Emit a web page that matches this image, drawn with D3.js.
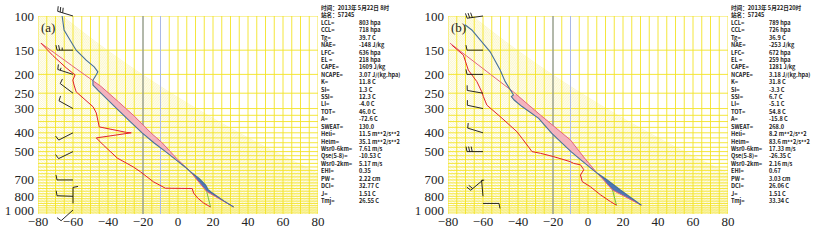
<!DOCTYPE html>
<html>
<head>
<meta charset="utf-8">
<script src="https://cdn.jsdelivr.net/npm/d3@7"></script>
<style>
body { margin: 0; background: #fff; }
.axlab { font-family: "Liberation Serif", "DejaVu Serif", serif; font-size: 13px; fill: #222; }
.info { font-family: "Noto Sans CJK SC", sans-serif; font-size: 5.6px; fill: #222; font-weight: bold; }
</style>
</head>
<body>
<script>
// axis ticks
const pTicks = [100, 150, 200, 250, 300, 400, 500, 700, 850, 1000]
const pLabels = ["100", "150", "200", "250", "300", "400", "500", "700", "800", "1 000"]
const tTicks = [-80, -60, -40, -20, 0, 20, 40, 60, 80]
const tLabels = ["\u221280", "\u221260", "\u221240", "\u221220", "0", "20", "40", "60", "80"]

// (a) 2013-05-22 08h : [p hPa, T C]
const tempA = [[100,-66.2],[108,-65.7],[118,-65.1],[133,-61.7],[150,-58.2],[169,-52.5],[183,-47.9],[194,-45.8],[201,-46.7],[214,-48.6],[227,-48.6],[241,-45.8],[300,-35],[350,-27.3],[400,-20.5],[450,-13.8],[500,-7.1],[550,-1.3],[600,4],[636,7.2],[686,11.9],[745,15.8],[785,17.2],[810,19.0],[850,22.3],[900,26.4],[965,31.8]]
const dewA = [[138,-78.3],[160,-71.5],[185,-63.9],[197,-60.1],[201,-58.8],[214,-60.1],[227,-59.4],[246,-58.2],[294,-48.5],[316,-46.7],[373,-45.0],[398,-29.5],[400,-26.7],[425,-46.7],[462,-42.7],[540,-34.7],[600,-25.5],[635,-21.5],[715,-14.1],[772,-7.2],[775,8.1],[817,8.9],[867,11.2],[920,14.6],[965,18.6]]
const parcelA = [[138,-78.3],[180,-60.7],[231,-43.9],[277,-34],[328,-25],[400,-15.5],[451,-9.0],[540,-1.0],[636,7.2],[700,10.9],[803,16.4],[965,31.8]]
const mixA = [[803,16.4],[965,18.6]]
const elA = 218
const windPA = [100, 150, 200, 250, 300, 400, 500, 700, 850, 925, 1000]
const windDirA = [287, 270, 288, 307, 299, 243, 244, 270, 272, 0, 228]
const windSpdA = [12, 10, 6, 4, 4, 4, 4, 4, 4, 4, 4]

// (b) 2013-05-22 20h
const tempB = [[111,-70.3],[118,-66.4],[153,-55.9],[190,-50.2],[218,-47.3],[255,-42.6],[260,-43.8],[271,-42.2],[293,-37.7],[337,-28.2],[402,-20.8],[435,-16.8],[500,-9.7],[550,-4.3],[647,5.3],[700,11],[789,18.5],[850,23.4],[945,30.5]]
const dewB = [[141,-77.9],[159,-71.2],[190,-68.4],[218,-63.5],[246,-60.7],[260,-59.8],[288,-57.8],[330,-50.2],[395,-40.6],[427,-37.7],[500,-32],[510,-27.2],[531,-19.6],[564,-10],[575,-8.2],[585,-4.3],[620,-2.4],[660,-4.3],[714,-3.3],[759,1.4],[836,7.2],[906,12.9],[945,16.3]]
const parcelB = [[138,-78.9],[180,-62.3],[200,-55.7],[246,-42.7],[324,-27.2],[436,-10],[540,-2],[647,5.3],[700,8.9],[789,14],[945,30.5]]
const mixB = [[789,14],[945,16.3]]
const elB = 255
const windPB = [100, 150, 200, 250, 300, 400, 500, 700, 850, 925]
const windDirB = [262, 270, 270, 280, 282, 287, 270, 230, 355, 90]
const windSpdB = [12, 4, 4, 4, 4, 4, 12, 8, 2, 4]

// station info text
const headA = ["时间：2013年 5月22日 8时", "站名：57245"]
const headB = ["时间：2013年 5月22日20时", "站名：57245"]
const infoLabels = ["LCL=","CCL=","Tg=","NAE=","LFC=","EL =","CAPE=","NCAPE=","K=","SI=","SSI=","LI=","TOT=","A=","SWEAT=","Heli=","Helm=","Wsr0-6km=","Qse(5-8)=","Wsr0-2km=","EHI=","PW =","DCI=","J=","Tmj="]
const infoA = ["803 hpa","718 hpa","39.7 C","-148 J/kg","636 hpa","218 hpa","1609 J/kg","3.07 J/(kg.hpa)","11.8 C","1.3 C","12.3 C","-4.0 C","46.0 C","-72.6 C","130.0","11.5 m**2/s**2","35.1 m**2/s**2","7.61 m/s","-10.53 C","5.17 m/s","0.35","2.22 cm","32.77 C","1.51 C","26.55 C"]
const infoB = ["789 hpa","726 hpa","36.9 C","-253 J/kg","672 hpa","259 hpa","1281 J/kg","3.18 J/(kg.hpa)","31.8 C","-3.3 C","6.7 C","-5.1 C","54.8 C","-15.8 C","268.0","8.2 m**2/s**2","83.6 m**2/s**2","17.33 m/s","-26.35 C","2.16 m/s","0.67","3.03 cm","26.06 C","1.51 C","33.34 C"]

const svg = d3.select("body").append("svg")
    .attr("width", 817)
    .attr("height", 240)

function drawPanel(cfg) {
  const x = d3.scaleLinear().domain([-80, 80]).range([cfg.left, cfg.left + 280])
  const y = d3.scaleLog().domain([100, 1050]).range([16, 16 + 194 * Math.log10(10.5)])
  const line = d3.line().x(d => x(d[1])).y(d => y(d[0]))

  svg.append("clipPath").attr("id", "clip" + cfg.id)
    .append("rect")
      .attr("x", x(-80)).attr("y", y(100))
      .attr("width", x(80) - x(-80)).attr("height", y(1050) - y(100))

  const plot = svg.append("g").attr("clip-path", `url(#clip${cfg.id})`)

  // dry adiabats (pale hatching)
  const pSteps = d3.range(100, 1060, 10)
  plot.append("g").selectAll("path")
    .data(d3.range(200, 402, 2))
    .join("path")
      .attr("d", th => line(pSteps.map(p => [p, th * Math.pow(p / 1000, 0.286) - 273.15])))
      .attr("fill", "none")
      .attr("stroke", "#f9f1a6")
      .attr("stroke-width", 0.6)

  // yellow grid
  plot.append("g").selectAll("line")
    .data(d3.range(-80, 81, 5))
    .join("line")
      .attr("x1", d => x(d)).attr("x2", d => x(d))
      .attr("y1", y(100)).attr("y2", y(1050))
      .attr("stroke", "#f3e326").attr("stroke-width", 0.9)
  plot.append("g").selectAll("line")
    .data(d3.range(100, 301, 50).concat(d3.range(325, 1051, 25)))
    .join("line")
      .attr("x1", x(-80)).attr("x2", x(80))
      .attr("y1", d => y(d)).attr("y2", d => y(d))
      .attr("stroke", "#f3e326").attr("stroke-width", 0.9)

  // -20 / -10 reference lines
  plot.append("line")
    .attr("x1", x(-20)).attr("x2", x(-20)).attr("y1", y(100)).attr("y2", y(1050))
    .attr("stroke", "#6d7fb8").attr("stroke-width", 1)
  plot.append("line")
    .attr("x1", x(-10)).attr("x2", x(-10)).attr("y1", y(100)).attr("y2", y(1050))
    .attr("stroke", "#a9b8e6").attr("stroke-width", 1)

  // CAPE / CIN fills between parcel and environment
  const interp = prof => d3.scaleLog().domain(prof.map(d => d[0])).range(prof.map(d => d[1])).clamp(true)
  const tI = interp(cfg.temp), pI = interp(cfg.parcel)
  const sfc = cfg.temp[cfg.temp.length - 1][0]
  const levels = d3.range(cfg.el, sfc, 2).concat([sfc])
  plot.append("path")
    .datum(levels)
    .attr("d", d3.area().y(p => y(p)).x0(p => x(tI(p))).x1(p => x(Math.max(tI(p), pI(p)))))
    .attr("fill", "#f4b3bd")
  plot.append("path")
    .datum(levels)
    .attr("d", d3.area().y(p => y(p)).x0(p => x(tI(p))).x1(p => x(Math.min(tI(p), pI(p)))))
    .attr("fill", "#4d76b6")

  // profiles
  plot.append("path").datum(cfg.mix).attr("d", line)
    .attr("fill", "none").attr("stroke", "#79c043").attr("stroke-width", 1)
  plot.append("path").datum(cfg.parcel).attr("d", line)
    .attr("fill", "none").attr("stroke", "#e4627e").attr("stroke-width", 1)
  plot.append("path").datum(cfg.dew).attr("d", line)
    .attr("fill", "none").attr("stroke", "#e2202a").attr("stroke-width", 1)
  plot.append("path").datum(cfg.temp).attr("d", line)
    .attr("fill", "none").attr("stroke", "#46709a").attr("stroke-width", 1.1)

  // wind barbs, staff anchored on the -60 line
  const barbs = svg.append("g").attr("stroke", "#111").attr("stroke-width", 0.9).attr("fill", "none")
  cfg.windP.forEach((p, i) => {
    const a = cfg.windDir[i] * Math.PI / 180
    const ux = Math.sin(a), uy = -Math.cos(a)
    const px = -uy, py = ux
    const x0 = x(-60), y0 = y(p), L = 16
    let path = `M${x0},${y0}L${x0 + ux * L},${y0 + uy * L}`
    let s = cfg.windSpd[i], pos = L
    while (s >= 4) {
      const bx = x0 + ux * pos, by = y0 + uy * pos
      path += `M${bx},${by}l${px * 5 + ux * 1},${py * 5 + uy * 1}`
      s -= 4; pos -= 2.6
    }
    if (s >= 2) {
      const bx = x0 + ux * pos, by = y0 + uy * pos
      path += `M${bx},${by}l${px * 2.6},${py * 2.6}`
    }
    barbs.append("path").attr("d", path)
  })

  // axis labels
  svg.append("g").selectAll("text")
    .data(pTicks)
    .join("text")
      .attr("class", "axlab")
      .attr("x", cfg.left - 4)
      .attr("y", d => y(d) + 4.5)
      .attr("text-anchor", "end")
      .text((d, i) => pLabels[i])
  svg.append("g").selectAll("text")
    .data(tTicks)
    .join("text")
      .attr("class", "axlab")
      .attr("x", d => x(d))
      .attr("y", 226)
      .attr("text-anchor", "middle")
      .text((d, i) => tLabels[i])
  svg.append("text")
    .attr("class", "axlab")
    .attr("x", cfg.left + 3)
    .attr("y", 32)
    .text(cfg.tag)

  // info block
  const info = svg.append("g")
  const lines = cfg.head.concat(infoLabels)
  info.selectAll("text.lab")
    .data(lines)
    .join("text")
      .attr("class", "info lab")
      .attr("x", cfg.left + 283)
      .attr("y", (d, i) => 10 + i * 7.42)
      .text(d => d)
  info.selectAll("text.val")
    .data(cfg.info)
    .join("text")
      .attr("class", "info val")
      .attr("x", cfg.left + 321)
      .attr("y", (d, i) => 10 + (i + 2) * 7.42)
      .text(d => d)
}

drawPanel({id: "a", left: 38, tag: "(a)", temp: tempA, dew: dewA, parcel: parcelA, mix: mixA, el: elA,
  windP: windPA, windDir: windDirA, windSpd: windSpdA, head: headA, info: infoA})
drawPanel({id: "b", left: 448, tag: "(b)", temp: tempB, dew: dewB, parcel: parcelB, mix: mixB, el: elB,
  windP: windPB, windDir: windDirB, windSpd: windSpdB, head: headB, info: infoB})
</script>
</body>
</html>
